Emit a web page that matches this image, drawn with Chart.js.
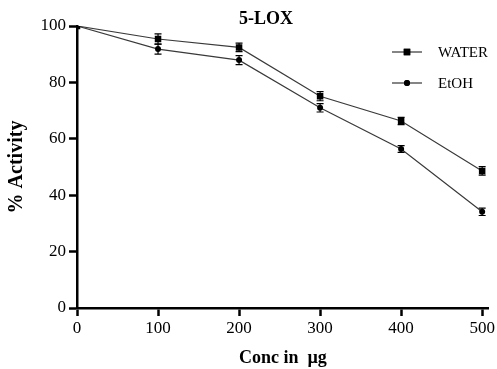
<!DOCTYPE html>
<html>
<head>
<meta charset="utf-8">
<script src="https://cdn.jsdelivr.net/npm/chart.js@4/dist/chart.umd.min.js"></script>
<style>
  html, body { margin: 0; padding: 0; background: #fff; }
  #wrap { width: 497px; height: 369px; }
</style>
</head>
<body>
<div id="wrap"><canvas id="c" width="497" height="369"></canvas></div>
<script>
// --- datos del gráfico ---
const conc = [0, 100, 200, 300, 400, 500];
const waterVals = [100, 95.4, 92.4, 75.1, 66.3, 48.6];
const waterErr = [0, 1.8, 1.5, 1.6, 1.3, 1.5];
const etohVals = [100, 91.8, 87.9, 71.0, 56.4, 34.1];
const etohErr = [0, 1.8, 1.6, 1.5, 1.2, 1.3];
const yTicks = [0, 20, 40, 60, 80, 100];
const xTicks = [0, 100, 200, 300, 400, 500];

const SERIF = '"Liberation Serif", "Times New Roman", serif';

function toPoints(xs, ys) {
  return xs.map((x, i) => ({ x: x, y: ys[i] }));
}

// barras de error dibujadas con las escalas de Chart.js
const errorBars = {
  id: 'errorBars',
  afterDatasetsDraw(chart) {
    const ctx = chart.ctx;
    const yScale = chart.scales.y;
    chart.data.datasets.forEach((ds, i) => {
      const meta = chart.getDatasetMeta(i);
      meta.data.forEach((pt, j) => {
        const e = ds.errors[j];
        if (!e) return;
        const v = ds.data[j].y;
        const top = yScale.getPixelForValue(v + e);
        const bot = yScale.getPixelForValue(v - e);
        ctx.save();
        ctx.strokeStyle = '#000';
        ctx.lineWidth = 1.2;
        ctx.beginPath();
        ctx.moveTo(pt.x, top); ctx.lineTo(pt.x, bot);
        ctx.moveTo(pt.x - 3.5, top); ctx.lineTo(pt.x + 3.5, top);
        ctx.moveTo(pt.x - 3.5, bot); ctx.lineTo(pt.x + 3.5, bot);
        ctx.stroke();
        ctx.restore();
      });
    });
  }
};

// título y leyenda dentro del área del gráfico
const overlay = {
  id: 'overlay',
  afterDraw(chart) {
    const ctx = chart.ctx;
    ctx.save();
    ctx.fillStyle = '#000';
    ctx.font = 'bold 18px ' + SERIF;
    ctx.textAlign = 'center';
    ctx.textBaseline = 'middle';
    ctx.fillText('5-LOX', 266, 19);

    const rows = [
      { ds: chart.data.datasets[0], y: 52 },
      { ds: chart.data.datasets[1], y: 83 }
    ];
    rows.forEach(r => {
      ctx.strokeStyle = '#333';
      ctx.lineWidth = 1.2;
      ctx.beginPath();
      ctx.moveTo(392, r.y); ctx.lineTo(422, r.y);
      ctx.stroke();
      Chart.helpers.drawPoint(ctx, {
        pointStyle: r.ds.pointStyle,
        radius: r.ds.pointRadius,
        borderWidth: 0
      }, 407, r.y);
      ctx.fill();
      ctx.font = '15px ' + SERIF;
      ctx.textAlign = 'left';
      ctx.fillText(r.ds.label, 438, r.y + 1);
    });
    ctx.restore();
  }
};

new Chart(document.getElementById('c'), {
  type: 'line',
  data: {
    datasets: [
      {
        label: 'WATER',
        data: toPoints(conc, waterVals),
        errors: waterErr,
        borderColor: '#3a3a3a',
        borderWidth: 1.2,
        pointStyle: 'rect',
        pointRadius: 4.6,
        pointBackgroundColor: '#000',
        pointBorderWidth: 0,
        fill: false,
        tension: 0
      },
      {
        label: 'EtOH',
        data: toPoints(conc, etohVals),
        errors: etohErr,
        borderColor: '#3a3a3a',
        borderWidth: 1.2,
        pointStyle: 'circle',
        pointRadius: 3,
        pointBackgroundColor: '#000',
        pointBorderWidth: 0,
        fill: false,
        tension: 0
      }
    ]
  },
  options: {
    responsive: false,
    animation: false,
    layout: { padding: { left: 0, right: 6, top: 26, bottom: 0 } },
    plugins: {
      legend: { display: false },
      tooltip: { enabled: false }
    },
    scales: {
      x: {
        type: 'linear',
        min: 0,
        max: 508,
        afterBuildTicks: s => { s.ticks = xTicks.map(v => ({ value: v })); },
        afterFit: s => { s.height = 61; },
        border: { color: '#000', width: 2.5 },
        grid: { drawOnChartArea: false, color: '#000', tickLength: 8, tickWidth: 2.5 },
        ticks: { color: '#000', padding: 2, maxRotation: 0, font: { family: SERIF, size: 17 } },
        title: {
          display: true,
          text: 'Conc in  µg',
          color: '#000',
          padding: { top: 3, bottom: 0 },
          font: { family: SERIF, size: 18, weight: 'bold' }
        }
      },
      y: {
        min: 0,
        max: 100,
        afterBuildTicks: s => { s.ticks = yTicks.map(v => ({ value: v })); },
        afterFit: s => { s.width = 77; },
        border: { color: '#000', width: 2.5 },
        grid: { drawOnChartArea: false, color: '#000', tickLength: 8, tickWidth: 2.5 },
        ticks: { color: '#000', padding: 3, font: { family: SERIF, size: 17 } },
        title: {
          display: true,
          text: '% Activity',
          color: '#000',
          padding: { top: 5, bottom: 0 },
          font: { family: SERIF, size: 20, weight: 'bold' }
        }
      }
    }
  },
  plugins: [errorBars, overlay]
});
</script>
</body>
</html>
